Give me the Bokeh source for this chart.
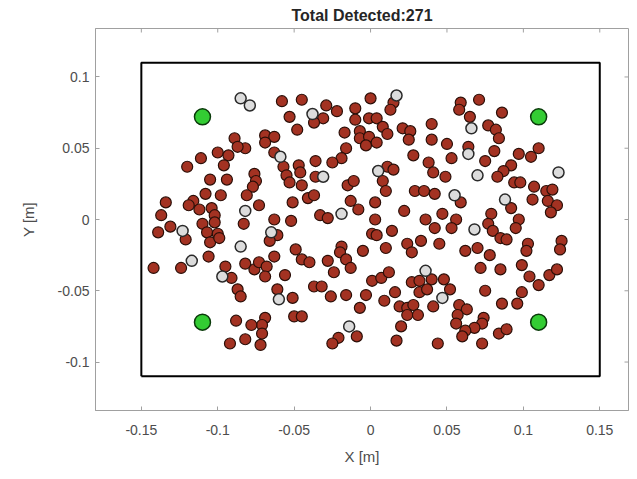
from bokeh.plotting import figure
from bokeh.models import Range1d, FixedTicker
from bokeh.embed import file_html
from bokeh.resources import INLINE

title_text = "Total Detected:271"
x_label = "X [m]"
y_label = "Y [m]"
x_ticks = [-0.15, -0.1, -0.05, 0.0, 0.05, 0.1, 0.15]
x_tick_labels = ["-0.15", "-0.1", "-0.05", "0", "0.05", "0.1", "0.15"]
y_ticks = [-0.1, -0.05, 0.0, 0.05, 0.1]
y_tick_labels = ["-0.1", "-0.05", "0", "0.05", "0.1"]

# boundary rectangle (data units)
rect_x = [-0.15, 0.15, 0.15, -0.15, -0.15]
rect_y = [-0.11, -0.11, 0.11, 0.11, -0.11]

# reference markers
green_x = [-0.11, 0.11, -0.11, 0.11]
green_y = [0.072, 0.072, -0.072, -0.072]

# detected points (red)
red_x = [
    -0.058, -0.045, -0.053, -0.048, -0.069, -0.063, -0.069, -0.089, -0.082, -0.087,
    -0.100, -0.093, -0.111, -0.120, -0.096, -0.063, -0.057, -0.055, -0.047, -0.046,
    -0.076, -0.075, -0.077, -0.105, -0.094, -0.108, -0.098, -0.081, -0.116, -0.119,
    -0.112, -0.104, -0.102, -0.073, -0.051, -0.053, -0.045, -0.063, -0.052,
    0.000, 0.015, 0.013, -0.029, -0.022, -0.010, -0.031, -0.037, -0.010, -0.001,
    0.004, 0.008, 0.011, 0.021, 0.026, 0.025, 0.040, 0.040, -0.017, -0.007,
    -0.007, -0.001, -0.003, 0.004, -0.016, -0.019, -0.025, -0.036, 0.028, 0.038,
    0.041, 0.011, 0.015, 0.008, 0.010, -0.036, -0.015, -0.011, -0.041, -0.037,
    -0.013, -0.008, 0.003, 0.029, 0.035, 0.042, 0.022, -0.033, -0.028, 0.003, 0.036,
    0.059, 0.058, 0.065, 0.071, 0.086, 0.077, 0.082, 0.084, 0.050, 0.064,
    0.081, 0.053, 0.075, 0.097, 0.105, 0.110, 0.092, 0.087, 0.083, 0.049,
    0.094, 0.098, 0.107, 0.115, 0.119, 0.106, 0.116, 0.122, 0.118, 0.059,
    0.092, 0.079, 0.047, 0.056, 0.097,
    -0.110, -0.102, -0.107, -0.100, -0.105, -0.099, -0.121, -0.083, -0.061, -0.066,
    -0.124, -0.106, -0.095, -0.091, -0.082, -0.076, -0.073, -0.068, -0.069, -0.063,
    -0.056, -0.049, -0.045, -0.087, -0.085, -0.061, -0.051, -0.050, -0.045, -0.069,
    -0.071, -0.088, -0.078, -0.071, -0.082, -0.092, -0.072,
    0.042, 0.001, 0.004, 0.014, 0.033, 0.024, 0.027, 0.010, -0.005, -0.019,
    -0.020, -0.016, -0.013, -0.028, -0.024, -0.040, -0.037, -0.032, -0.026, -0.016,
    -0.003, 0.001, 0.007, 0.012, 0.009, 0.016, -0.007, 0.027, 0.032, 0.040,
    0.032, 0.037, 0.019, 0.024, 0.028, 0.024, 0.031, 0.041, 0.020, -0.009,
    -0.021, -0.025, 0.017, 0.044,
    0.053, 0.077, 0.080, 0.085, 0.089, 0.095, 0.045, 0.062, 0.070, 0.078,
    0.103, 0.102, 0.125, 0.124, 0.072, 0.085, 0.099, 0.104, 0.110, 0.117,
    0.122, 0.048, 0.052, 0.075, 0.099, 0.096, 0.086, 0.058, 0.063, 0.057,
    0.056, 0.074, 0.073, 0.068, 0.062, 0.060, 0.084, 0.089, 0.073,
    -0.134, -0.137, -0.131, -0.139, -0.142,
]
red_y = [
    0.083, 0.084, 0.072, 0.063, 0.059, 0.058, 0.054, 0.057, 0.050, 0.051,
    0.047, 0.045, 0.043, 0.037, 0.038, 0.047, 0.037, 0.031, 0.038, 0.033,
    0.032, 0.027, 0.023, 0.028, 0.028, 0.018, 0.017, 0.017, 0.013, 0.010,
    0.007, 0.008, 0.003, 0.010, 0.012, 0.026, 0.024, 0.000, -0.001,
    0.085, 0.082, 0.077, 0.080, 0.076, 0.078, 0.071, 0.068, 0.070, 0.071,
    0.071, 0.065, 0.060, 0.064, 0.062, 0.056, 0.067, 0.056, 0.061, 0.062,
    0.057, 0.058, 0.052, 0.054, 0.050, 0.043, 0.040, 0.041, 0.045, 0.040,
    0.033, 0.037, 0.035, 0.027, 0.020, 0.030, 0.024, 0.027, 0.015, 0.017,
    0.013, 0.007, 0.012, 0.020, 0.020, 0.018, 0.006, 0.003, 0.001, 0.000, 0.000,
    0.082, 0.077, 0.072, 0.084, 0.075, 0.066, 0.063, 0.057, 0.053, 0.051,
    0.048, 0.043, 0.041, 0.046, 0.044, 0.050, 0.038, 0.034, 0.030, 0.030,
    0.026, 0.026, 0.023, 0.020, 0.021, 0.014, 0.013, 0.010, 0.005, 0.012,
    0.008, 0.004, 0.004, 0.000, 0.000,
    -0.003, -0.002, -0.009, -0.010, -0.016, -0.013, -0.014, -0.003, -0.011, -0.015,
    -0.034, -0.026, -0.033, -0.041, -0.031, -0.035, -0.030, -0.033, -0.040, -0.026,
    -0.039, -0.021, -0.028, -0.049, -0.054, -0.049, -0.055, -0.068, -0.068, -0.069,
    -0.074, -0.071, -0.074, -0.080, -0.084, -0.087, -0.088,
    -0.006, -0.010, -0.011, -0.008, -0.015, -0.017, -0.023, -0.020, -0.022, -0.019,
    -0.023, -0.028, -0.034, -0.029, -0.037, -0.030, -0.047, -0.047, -0.054, -0.053,
    -0.053, -0.043, -0.041, -0.037, -0.057, -0.051, -0.062, -0.044, -0.043, -0.042,
    -0.051, -0.049, -0.061, -0.062, -0.060, -0.067, -0.067, -0.061, -0.075, -0.082,
    -0.083, -0.087, -0.085, -0.087,
    -0.006, -0.003, -0.008, -0.013, -0.014, -0.006, -0.017, -0.022, -0.020, -0.025,
    -0.017, -0.022, -0.015, -0.021, -0.034, -0.035, -0.032, -0.040, -0.046, -0.039,
    -0.035, -0.042, -0.049, -0.050, -0.051, -0.059, -0.059, -0.060, -0.063, -0.067,
    -0.073, -0.069, -0.073, -0.076, -0.078, -0.082, -0.080, -0.077, -0.087,
    0.012, 0.003, -0.005, -0.009, -0.034,
]

# detected points (pale)
gray_x = [-0.085, -0.079, -0.059, -0.082, 0.017, -0.038, 0.005, -0.031, -0.019,
          0.066, 0.064, 0.123, 0.070, 0.055, 0.088, -0.123, -0.065, -0.085,
          -0.117, -0.097, -0.060, 0.036, -0.014, 0.068, 0.047]
gray_y = [0.085, 0.080, 0.044, 0.006, 0.087, 0.074, 0.034, 0.030, 0.004,
          0.064, 0.046, 0.033, 0.031, 0.017, 0.014, -0.008, -0.009, -0.019,
          -0.029, -0.040, -0.056, -0.036, -0.075, -0.007, -0.055]

FONT = "Liberation Sans"
AX_COL = "#a0a0a0"
TXT_COL = "#4d4d4d"

X0, X1 = -0.18, 0.1688
Y0, Y1 = -0.134, 0.134
W, H = 629, 470
ML, MR, MT, MB = 95, 1, 28, 60

p = figure(width=W, height=H,
           x_range=Range1d(X0, X1), y_range=Range1d(Y0, Y1),
           output_backend="svg", toolbar_location=None,
           min_border_left=ML, min_border_right=MR, min_border_top=MT,
           min_border_bottom=MB)

p.title.text = title_text
p.title.align = "center"
p.title.vertical_align = "middle"
p.title.text_font = FONT
p.title.text_font_size = "16px"
p.title.text_font_style = "bold"
p.title.text_color = "#262626"
p.title.standoff = 8

p.xgrid.visible = False
p.ygrid.visible = False
p.outline_line_color = AX_COL
p.outline_line_width = 1
p.background_fill_color = "white"
p.border_fill_color = "white"

for ax, ticks, labels in ((p.xaxis[0], x_ticks, x_tick_labels), (p.yaxis[0], y_ticks, y_tick_labels)):
    ax.ticker = FixedTicker(ticks=ticks)
    ax.major_label_overrides = {t: l for t, l in zip(ticks, labels)}
    ax.axis_line_color = AX_COL
    ax.major_tick_line_color = AX_COL
    ax.major_tick_in = 4
    ax.major_tick_out = 0
    ax.minor_tick_line_color = None
    ax.major_label_text_font = FONT
    ax.major_label_text_font_size = "14px"
    ax.major_label_text_color = TXT_COL
    ax.axis_label_text_font = FONT
    ax.axis_label_text_font_size = "15px"
    ax.axis_label_text_font_style = "normal"
    ax.axis_label_text_color = TXT_COL

p.xaxis.axis_label = x_label
p.yaxis.axis_label = y_label
p.xaxis.major_label_standoff = 14
p.xaxis.axis_label_standoff = 10
p.yaxis.major_label_standoff = 6
p.yaxis.axis_label_standoff = 18

# mirrored tick marks on the top and right box edges (4 px long)
px_per_x = (W - ML - MR) / (X1 - X0)
px_per_y = (H - MT - MB) / (Y1 - Y0)
tick_dy = 4 / px_per_y
tick_dx = 4 / px_per_x
p.segment(x0=x_ticks, y0=[Y1] * len(x_ticks), x1=x_ticks, y1=[Y1 - tick_dy] * len(x_ticks),
          line_color=AX_COL, line_width=1)
p.segment(x0=[X1] * len(y_ticks), y0=y_ticks, x1=[X1 - tick_dx] * len(y_ticks), y1=y_ticks,
          line_color=AX_COL, line_width=1)

p.line(rect_x, rect_y, line_color="black", line_width=2)

p.scatter(red_x, red_y, size=11, fill_color="#a33222", line_color="#2b0f08", line_width=1.2)
p.scatter(gray_x, gray_y, size=11, fill_color="#dcdcdc", line_color="#2a2a2a", line_width=1.5)
p.scatter(green_x, green_y, size=16, fill_color="#33cc33", line_color="#0a3a0a", line_width=1.5)

open("out.html", "w").write(file_html(p, INLINE))
